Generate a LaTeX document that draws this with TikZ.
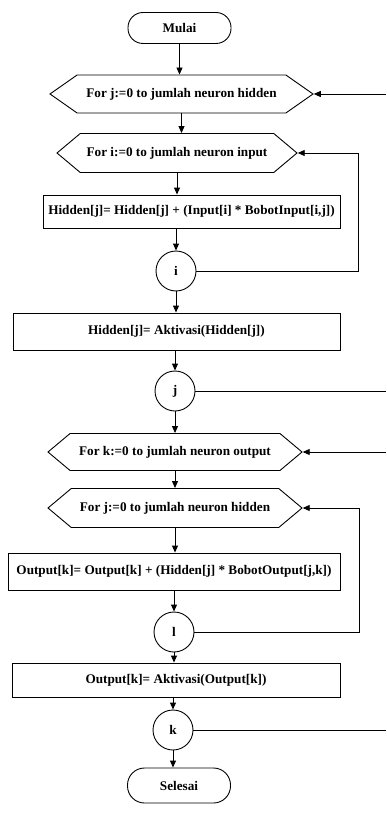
\documentclass[tikz,border=0pt]{standalone}
\usepackage{fontspec}
\setmainfont{Liberation Serif}
\usetikzlibrary{arrows.meta, shapes.symbols}

\tikzset{
  flow/.style={draw, line width=0.9pt, font=\fontsize{13.2}{16}\selectfont\bfseries, inner sep=0pt},
  terminal/.style={flow, rectangle, rounded corners=15pt, minimum width=103pt, minimum height=31pt},
  loopbox/.style={flow, signal, signal to=east and west, signal pointer angle=80, minimum height=38pt},
  procbox/.style={flow, rectangle, minimum height=35pt},
  connector/.style={flow, circle, minimum size=40pt},
  line/.style={line width=0.9pt},
  arrow/.style={line, -{Triangle[length=7pt, width=6pt]}},
}

\begin{document}
\begin{tikzpicture}[x=1pt, y=-1pt]
    \useasboundingbox (0,0) rectangle (386,821);

    % --- NODES ---
    \node[terminal] (mulai) at (179.5,28) {Mulai};
    \node[loopbox, minimum width=263pt, signal pointer angle=70] (forj) at (181.5,94) {For j:=0 to jumlah neuron hidden};
    \node[loopbox, minimum width=240pt, minimum height=39pt] (fori) at (177,153) {For i:=0 to jumlah neuron input};
    \node[procbox, minimum width=297pt, minimum height=33pt] (hidsum) at (191.5,211.5) {Hidden[j]= Hidden[j] + (Input[i] * BobotInput[i,j])};
    \node[connector] (ci) at (176,271) {i};
    \node[procbox, minimum width=327pt, minimum height=37pt] (hidact) at (176.5,331.5) {Hidden[j]= Aktivasi(Hidden[j])};
    \node[connector] (cj) at (175,391) {j};
    \node[loopbox, minimum width=254pt, minimum height=37pt] (fork) at (175,452) {For k:=0 to jumlah neuron output};
    \node[loopbox, minimum width=254pt, minimum height=39pt] (forj2) at (175,508) {For j:=0 to jumlah neuron hidden};
    \node[procbox, minimum width=332pt, minimum height=37pt] (outsum) at (174,571.5) {Output[k]= Output[k] + (Hidden[j] * BobotOutput[j,k])};
    \node[connector] (cl) at (174,632) {l};
    \node[procbox, minimum width=328pt, minimum height=34pt] (outact) at (176,680) {Output[k]= Aktivasi(Output[k])};
    \node[connector] (ck) at (173,730) {k};
    \node[terminal, minimum height=35pt, rounded corners=17pt] (selesai) at (179,785.5) {Selesai};

    % return columns and the cut right edge
    \coordinate (ri) at (358,0);
    \coordinate (rl) at (359,0);
    \coordinate (edge) at (386,0);

    % --- MAIN FLOW ---
    \draw[arrow] (mulai.south) -- (mulai.south |- forj.north);
    \draw[arrow] (forj.south) -- (forj.south |- fori.north);
    \draw[arrow] (fori.south) -- (fori.south |- hidsum.north);
    \draw[arrow] (ci.north |- hidsum.south) -- (ci.north);
    \draw[arrow] (ci.south) -- (ci.south |- hidact.north);
    \draw[arrow] (cj.north |- hidact.south) -- (cj.north);
    \draw[arrow] (cj.south) -- (cj.south |- fork.north);
    \draw[arrow] (fork.south) -- (fork.south |- forj2.north);
    \draw[arrow] (forj2.south) -- (forj2.south |- outsum.north);
    \draw[arrow] (cl.north |- outsum.south) -- (cl.north);
    \draw[arrow] (cl.south) -- (cl.south |- outact.north);
    \draw[arrow] (ck.north |- outact.south) -- (ck.north);
    \draw[arrow] (ck.south) -- (ck.south |- selesai.north);

    % --- LOOP RETURNS ---
    \draw[arrow] (ci.east) -- (ci.east -| ri) |- (fori.east);
    \draw[arrow] (cl.east) -- (cl.east -| rl) |- (forj2.east);
    \draw[line] (cj.east) -- (cj.east -| edge);
    \draw[line] (ck.east) -- (ck.east -| edge);
    \draw[arrow] (forj.east -| edge) -- (forj.east);
    \draw[arrow] (fork.east -| edge) -- (fork.east);

\end{tikzpicture}
\end{document}
